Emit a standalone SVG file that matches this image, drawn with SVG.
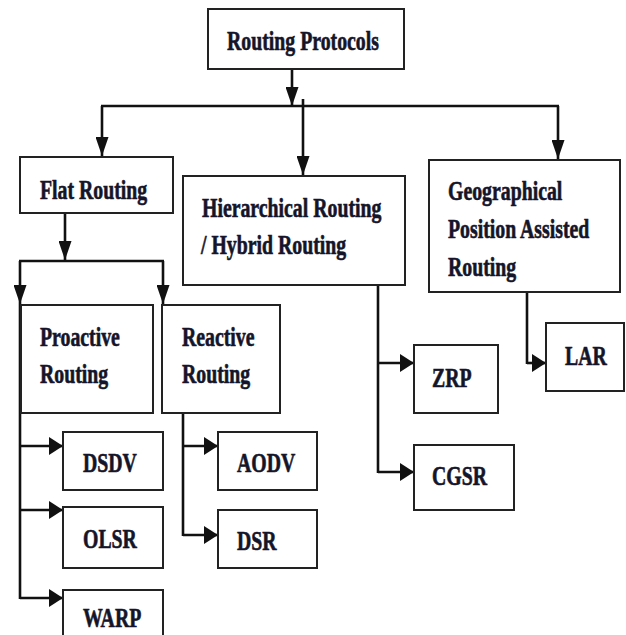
<svg xmlns="http://www.w3.org/2000/svg" width="626" height="635" viewBox="0 0 626 635">
<style>
.box{fill:#fff;stroke:#222;stroke-width:2}
.t{font-family:"Liberation Serif","Times New Roman","DejaVu Serif",serif;font-weight:bold;font-size:19.8px;fill:#15152a;stroke:#15152a;stroke-width:0.45}
.c{fill:none;stroke:#111;stroke-width:2.6}
</style>
<defs>
<marker id="mv" markerUnits="userSpaceOnUse" markerWidth="19" markerHeight="13" refX="19" refY="6.5" orient="auto">
<path d="M0,0 L19,6.5 L0,13 z" fill="#111"/>
</marker>
<marker id="mh" markerUnits="userSpaceOnUse" markerWidth="14" markerHeight="18" refX="14" refY="9" orient="auto">
<path d="M0,0 L14,9 L0,18 z" fill="#111"/>
</marker>
</defs>
<rect width="626" height="635" fill="#fff"/>
<g id="connectors">
<line class="c" x1="292" y1="69" x2="292" y2="106" marker-end="url(#mv)"/>
<line class="c" x1="101" y1="106" x2="559" y2="106"/>
<line class="c" x1="102" y1="106" x2="102" y2="156" marker-end="url(#mv)"/>
<line class="c" x1="303" y1="99" x2="303" y2="175" marker-end="url(#mv)"/>
<line class="c" x1="558" y1="106" x2="558" y2="159" marker-end="url(#mv)"/>
<line class="c" x1="65" y1="213" x2="65" y2="260" marker-end="url(#mv)"/>
<line class="c" x1="19" y1="261" x2="164" y2="261"/>
<line class="c" x1="20" y1="261" x2="20" y2="304" marker-end="url(#mv)"/>
<line class="c" x1="163" y1="261" x2="163" y2="304" marker-end="url(#mv)"/>
<line class="c" x1="20" y1="304" x2="20" y2="599"/>
<line class="c" x1="20" y1="446" x2="63" y2="446" marker-end="url(#mh)"/>
<line class="c" x1="20" y1="510" x2="63" y2="510" marker-end="url(#mh)"/>
<line class="c" x1="20" y1="598" x2="63" y2="598" marker-end="url(#mh)"/>
<line class="c" x1="183" y1="408" x2="183" y2="536"/>
<line class="c" x1="183" y1="446" x2="218" y2="446" marker-end="url(#mh)"/>
<line class="c" x1="183" y1="535" x2="218" y2="535" marker-end="url(#mh)"/>
<line class="c" x1="378" y1="285" x2="378" y2="473"/>
<line class="c" x1="378" y1="363" x2="414" y2="363" marker-end="url(#mh)"/>
<line class="c" x1="378" y1="472" x2="414" y2="472" marker-end="url(#mh)"/>
<line class="c" x1="527" y1="292" x2="527" y2="364"/>
<line class="c" x1="527" y1="363" x2="546" y2="363" marker-end="url(#mh)"/>
</g>
<g id="routing-protocols">
<rect class="box" x="208" y="9" width="196" height="60"/>
<text class="t" transform="translate(227 50) scale(1 1.4)">Routing Protocols</text>
</g>
<g id="flat-routing">
<rect class="box" x="20" y="157" width="153" height="56"/>
<text class="t" transform="translate(40 199) scale(1 1.4)">Flat Routing</text>
</g>
<g id="hierarchical-routing">
<rect class="box" x="183" y="176" width="222" height="109"/>
<text class="t" transform="translate(202 217) scale(1 1.4)">Hierarchical Routing</text>
<text class="t" transform="translate(201 254) scale(1 1.4)">/ Hybrid Routing</text>
</g>
<g id="geographical-routing">
<rect class="box" x="429" y="160" width="191" height="132"/>
<text class="t" transform="translate(448 200) scale(1 1.4)">Geographical</text>
<text class="t" transform="translate(448 238) scale(1 1.4)">Position Assisted</text>
<text class="t" transform="translate(448 276) scale(1 1.4)">Routing</text>
</g>
<g id="proactive-routing">
<rect class="box" x="21" y="305" width="132" height="108"/>
<text class="t" transform="translate(40 346) scale(1 1.4)">Proactive</text>
<text class="t" transform="translate(40 383) scale(1 1.4)">Routing</text>
</g>
<g id="reactive-routing">
<rect class="box" x="162" y="305" width="118" height="108"/>
<text class="t" transform="translate(182 346) scale(1 1.4)">Reactive</text>
<text class="t" transform="translate(182 383) scale(1 1.4)">Routing</text>
</g>
<g id="dsdv">
<rect class="box" x="63" y="432" width="100" height="58"/>
<text class="t" transform="translate(83 472) scale(1 1.4)">DSDV</text>
</g>
<g id="olsr">
<rect class="box" x="63" y="507" width="100" height="61"/>
<text class="t" transform="translate(83 548) scale(1 1.4)">OLSR</text>
</g>
<g id="warp">
<rect class="box" x="63" y="590" width="100" height="60"/>
<text class="t" transform="translate(83 627) scale(1 1.4)">WARP</text>
</g>
<g id="aodv">
<rect class="box" x="218" y="432" width="99" height="58"/>
<text class="t" transform="translate(237 472) scale(1 1.4)">AODV</text>
</g>
<g id="dsr">
<rect class="box" x="218" y="510" width="99" height="58"/>
<text class="t" transform="translate(237 550) scale(1 1.4)">DSR</text>
</g>
<g id="zrp">
<rect class="box" x="414" y="345" width="84" height="68"/>
<text class="t" transform="translate(432 387) scale(1 1.4)">ZRP</text>
</g>
<g id="cgsr">
<rect class="box" x="414" y="445" width="100" height="65"/>
<text class="t" transform="translate(432 485) scale(1 1.4)">CGSR</text>
</g>
<g id="lar">
<rect class="box" x="546" y="323" width="78" height="68"/>
<text class="t" transform="translate(565 365) scale(1 1.4)">LAR</text>
</g>
</svg>
